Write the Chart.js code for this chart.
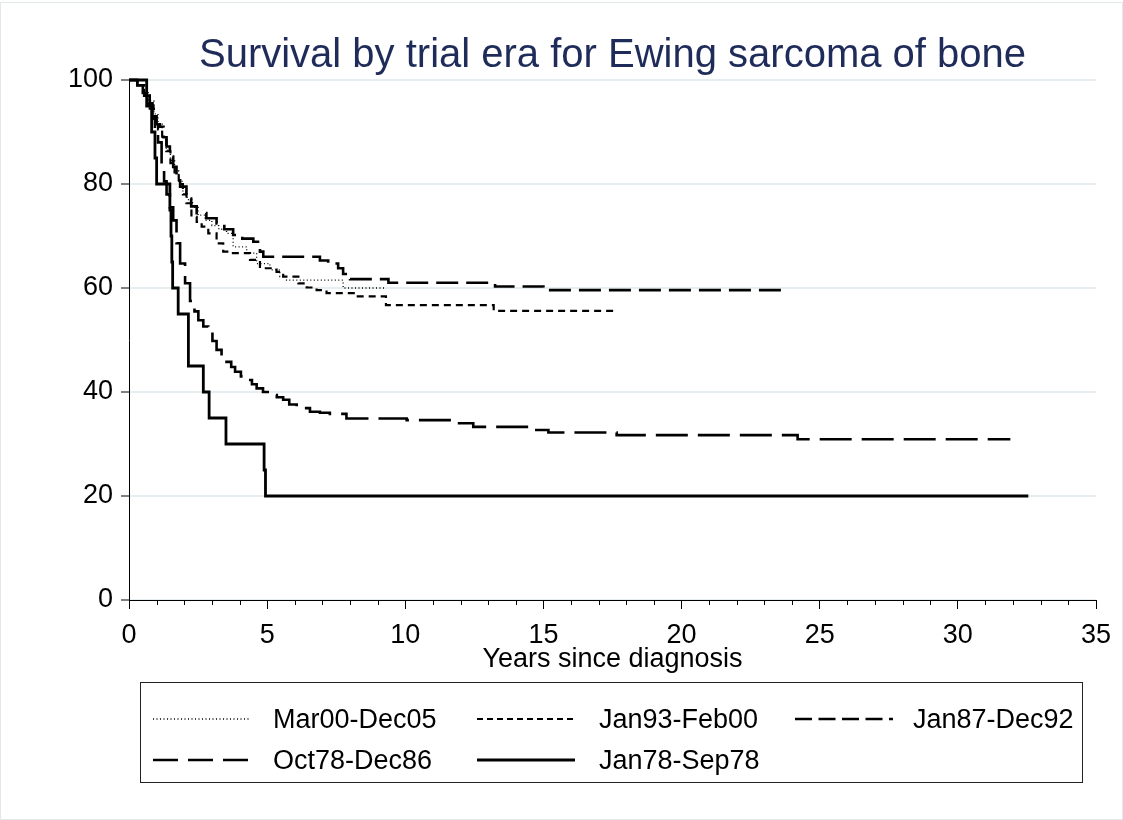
<!DOCTYPE html>
<html>
<head>
<meta charset="utf-8">
<script src="https://cdn.jsdelivr.net/npm/chart.js@4.4.1/dist/chart.umd.min.js"></script>
<style>
  html, body { margin: 0; padding: 0; background: #fff; }
  #wrap { position: relative; width: 1123px; height: 820px; overflow: hidden; font-family: "Liberation Sans", Arial, sans-serif; }
  #frame { position: absolute; left: 0; top: 2px; width: 1121px; height: 816px; border: 1px solid #e3e8ea; }
  canvas { position: absolute; left: 0; top: 0; }
  #title { position: absolute; left: 129px; width: 967px; top: 33px; text-align: center; font-size: 40px; line-height: 40px; color: #1f2c5a; white-space: nowrap; }
  #xtitle { position: absolute; left: 129px; width: 967px; top: 645px; text-align: center; font-size: 27px; line-height: 27px; color: #000; white-space: nowrap; }
  #legend { position: absolute; left: 140px; top: 682px; width: 941px; height: 99px; border: 1px solid #222; }
  .lg { position: absolute; font-size: 27px; line-height: 27px; color: #000; white-space: nowrap; }
  .ls { position: absolute; }
</style>
</head>
<body>
<div id="wrap">
  <div id="frame"></div>
  <canvas id="c" width="1123" height="820"></canvas>
  <div id="title">Survival by trial era for Ewing sarcoma of bone</div>
  <div id="xtitle">Years since diagnosis</div>
  <div id="legend"></div>
</div>
<script>
// ---- Data (years since diagnosis, survival %) ----
const seriesNames = ["Mar00-Dec05", "Jan93-Feb00", "Jan87-Dec92", "Oct78-Dec86", "Jan78-Sep78"];

const mar00Time = [0, 0.3, 0.5, 0.7, 0.9, 1.05, 1.2, 1.35, 1.5, 1.65, 1.8, 1.95, 2.1, 2.3, 2.5, 2.75, 3.0, 3.25, 3.53, 3.77, 4.26, 4.62, 5.1, 5.46, 5.7, 7.75, 9.3];
const mar00Surv = [100, 99, 98, 96, 93.5, 91.5, 89, 86.5, 84.5, 82.5, 80.5, 78.5, 77, 75.5, 74, 73, 72, 71.3, 70.5, 67.9, 66.7, 64.7, 63.5, 62.2, 61.5, 60.0, 60.0];

const jan93Time = [0, 0.3, 0.55, 0.75, 0.9, 1.05, 1.2, 1.35, 1.5, 1.65, 1.8, 1.95, 2.08, 2.26, 2.45, 2.63, 2.87, 3.17, 3.41, 3.65, 4.38, 4.74, 5.34, 5.58, 6.13, 6.43, 6.79, 7.15, 8.2, 9.3, 13.2, 17.65];
const jan93Surv = [100, 99, 97, 94.5, 92.5, 90.5, 88.5, 86.3, 84, 82, 80, 78, 76.3, 73.7, 72.7, 71.8, 70.5, 68.6, 67, 66.7, 65.4, 63.8, 63.1, 62.2, 60.9, 60.1, 59.6, 59.0, 58.4, 56.7, 55.6, 55.6];

const jan87Time = [0, 0.3, 0.55, 0.75, 0.88, 1.0, 1.12, 1.25, 1.36, 1.48, 1.6, 1.72, 1.85, 2.08, 2.25, 2.45, 2.8, 3.17, 3.45, 3.77, 4.1, 4.5, 4.74, 4.86, 6.91, 7.21, 7.57, 7.75, 8.0, 9.39, 13.25, 15.0, 23.7];
const jan87Surv = [100, 99, 97, 95, 93, 91.5, 91, 89, 87.2, 85.3, 83.3, 81.3, 79.5, 77.2, 75.7, 74.4, 73.4, 72.4, 71.3, 70.2, 69.5, 68.9, 67, 66, 65.3, 64.7, 63.8, 62.7, 61.7, 61.0, 60.3, 59.6, 59.6];

const oct78Time = [0, 0.3, 0.5, 0.7, 0.85, 0.94, 1.05, 1.18, 1.27, 1.36, 1.48, 1.6, 1.72, 1.85, 2.03, 2.21, 2.37, 2.51, 2.69, 2.87, 3.02, 3.17, 3.35, 3.53, 3.7, 3.84, 4.05, 4.26, 4.45, 4.62, 4.85, 5.1, 5.35, 5.58, 5.8, 6.07, 6.55, 6.91, 7.27, 7.87, 10.05, 11.86, 12.46, 14.64, 15.18, 17.65, 24.2, 31.9];
const oct78Surv = [100, 99, 97.5, 95.5, 93, 91, 88, 83, 80.5, 78, 75.5, 73, 68.6, 64.7, 60.9, 57.5, 55.5, 53.8, 52.6, 51.5, 49.8, 48.1, 47, 45.8, 44.8, 43.9, 43, 42.3, 41.5, 40.7, 40, 39.4, 39, 38.5, 37.6, 36.9, 36.2, 36, 35.8, 34.9, 34.6, 34.0, 33.3, 32.7, 32.2, 31.7, 30.9, 30.9];

const jan78Time = [0, 0.64, 0.82, 0.94, 1.0, 1.48, 1.52, 1.55, 1.58, 1.78, 2.15, 2.69, 2.9, 3.51, 4.89, 4.94, 32.55];
const jan78Surv = [100, 95, 90, 85, 80, 75, 70, 65, 60, 55, 45, 40, 35, 30, 25, 20, 20];

const xTicks = [0, 5, 10, 15, 20, 25, 30, 35];
const yTicks = [0, 20, 40, 60, 80, 100];

// ---- Styles ----
const styles = [
  { dash: [1, 2.5], width: 1.3 },
  { dash: [7, 5], width: 2.2 },
  { dash: [22, 8], width: 2.6 },
  { dash: [32, 10], width: 2.6 },
  { dash: [], width: 2.8 }
];
const times = [mar00Time, jan93Time, jan87Time, oct78Time, jan78Time];
const survs = [mar00Surv, jan93Surv, jan87Surv, oct78Surv, jan78Surv];

const datasets = seriesNames.map((name, k) => ({
  label: name,
  data: times[k].map((t, i) => ({ x: t, y: survs[k][i] })),
  stepped: true,
  borderColor: '#000',
  borderWidth: styles[k].width,
  borderDash: styles[k].dash,
  pointRadius: 0,
  fill: false,
  clip: 6
}));

const minorTicks = {
  id: 'minorTicks',
  afterDraw(chart) {
    const xs = chart.scales.x;
    const ctx = chart.ctx;
    ctx.save();
    ctx.strokeStyle = '#000';
    ctx.lineWidth = 1;
    for (let v = xs.min; v <= xs.max; v += 1) {
      if (xTicks.includes(v)) continue;
      const px = Math.round(xs.getPixelForValue(v)) + 0.5;
      ctx.beginPath();
      ctx.moveTo(px, xs.top);
      ctx.lineTo(px, xs.top + 5);
      ctx.stroke();
    }
    ctx.restore();
  }
};

const font = { family: '"Liberation Sans", Arial, sans-serif', size: 27 };

new Chart(document.getElementById('c'), {
  type: 'line',
  data: { datasets },
  options: {
    responsive: false,
    animation: false,
    devicePixelRatio: 1,
    layout: { padding: { left: 0, top: 80, right: 27, bottom: 140 } },
    plugins: { legend: { display: false }, tooltip: { enabled: false }, title: { display: false } },
    scales: {
      x: {
        type: 'linear', min: 0, max: 35,
        afterBuildTicks: (axis) => { axis.ticks = xTicks.map(v => ({ value: v })); },
        afterFit: (axis) => { axis.height = 80; },
        ticks: { color: '#000', font, padding: 10, maxRotation: 0, autoSkip: false },
        grid: { drawOnChartArea: false, drawTicks: true, tickLength: 9, tickColor: '#000', tickWidth: 1 },
        border: { display: true, color: '#000', width: 1 }
      },
      y: {
        type: 'linear', min: 0, max: 100,
        afterBuildTicks: (axis) => { axis.ticks = yTicks.map(v => ({ value: v })); },
        afterFit: (axis) => { axis.width = 129; },
        ticks: { color: '#000', font, padding: 8 },
        grid: { color: '#e6eef1', lineWidth: 2, drawTicks: true, tickLength: 8, tickColor: '#000', tickWidth: 1 },
        border: { display: true, color: '#000', width: 1 }
      }
    }
  },
  plugins: [minorTicks]
});

// ---- HTML legend ----
const legendPos = [
  { sx: 12, sy: 36, tx: 132 },
  { sx: 336, sy: 36, tx: 458 },
  { sx: 654, sy: 36, tx: 772 },
  { sx: 12, sy: 77, tx: 132 },
  { sx: 336, sy: 77, tx: 458 }
];
const legend = document.getElementById('legend');
seriesNames.forEach((name, k) => {
  const p = legendPos[k];
  const svgNS = 'http://www.w3.org/2000/svg';
  const svg = document.createElementNS(svgNS, 'svg');
  svg.setAttribute('class', 'ls');
  svg.setAttribute('width', '98');
  svg.setAttribute('height', '8');
  svg.style.left = p.sx + 'px';
  svg.style.top = (p.sy - 4) + 'px';
  const ln = document.createElementNS(svgNS, 'line');
  ln.setAttribute('x1', '0'); ln.setAttribute('x2', '98');
  ln.setAttribute('y1', '4'); ln.setAttribute('y2', '4');
  ln.setAttribute('stroke', '#000');
  ln.setAttribute('stroke-width', String(styles[k].width));
  const legDash = [[1, 2.5], [6, 4], [17, 6.5], [25, 10], []][k];
  if (legDash.length) ln.setAttribute('stroke-dasharray', legDash.join(' '));
  svg.appendChild(ln);
  legend.appendChild(svg);
  const d = document.createElement('div');
  d.className = 'lg';
  d.textContent = name;
  d.style.left = p.tx + 'px';
  d.style.top = (p.sy - 13) + 'px';
  legend.appendChild(d);
});
</script>
</body>
</html>
